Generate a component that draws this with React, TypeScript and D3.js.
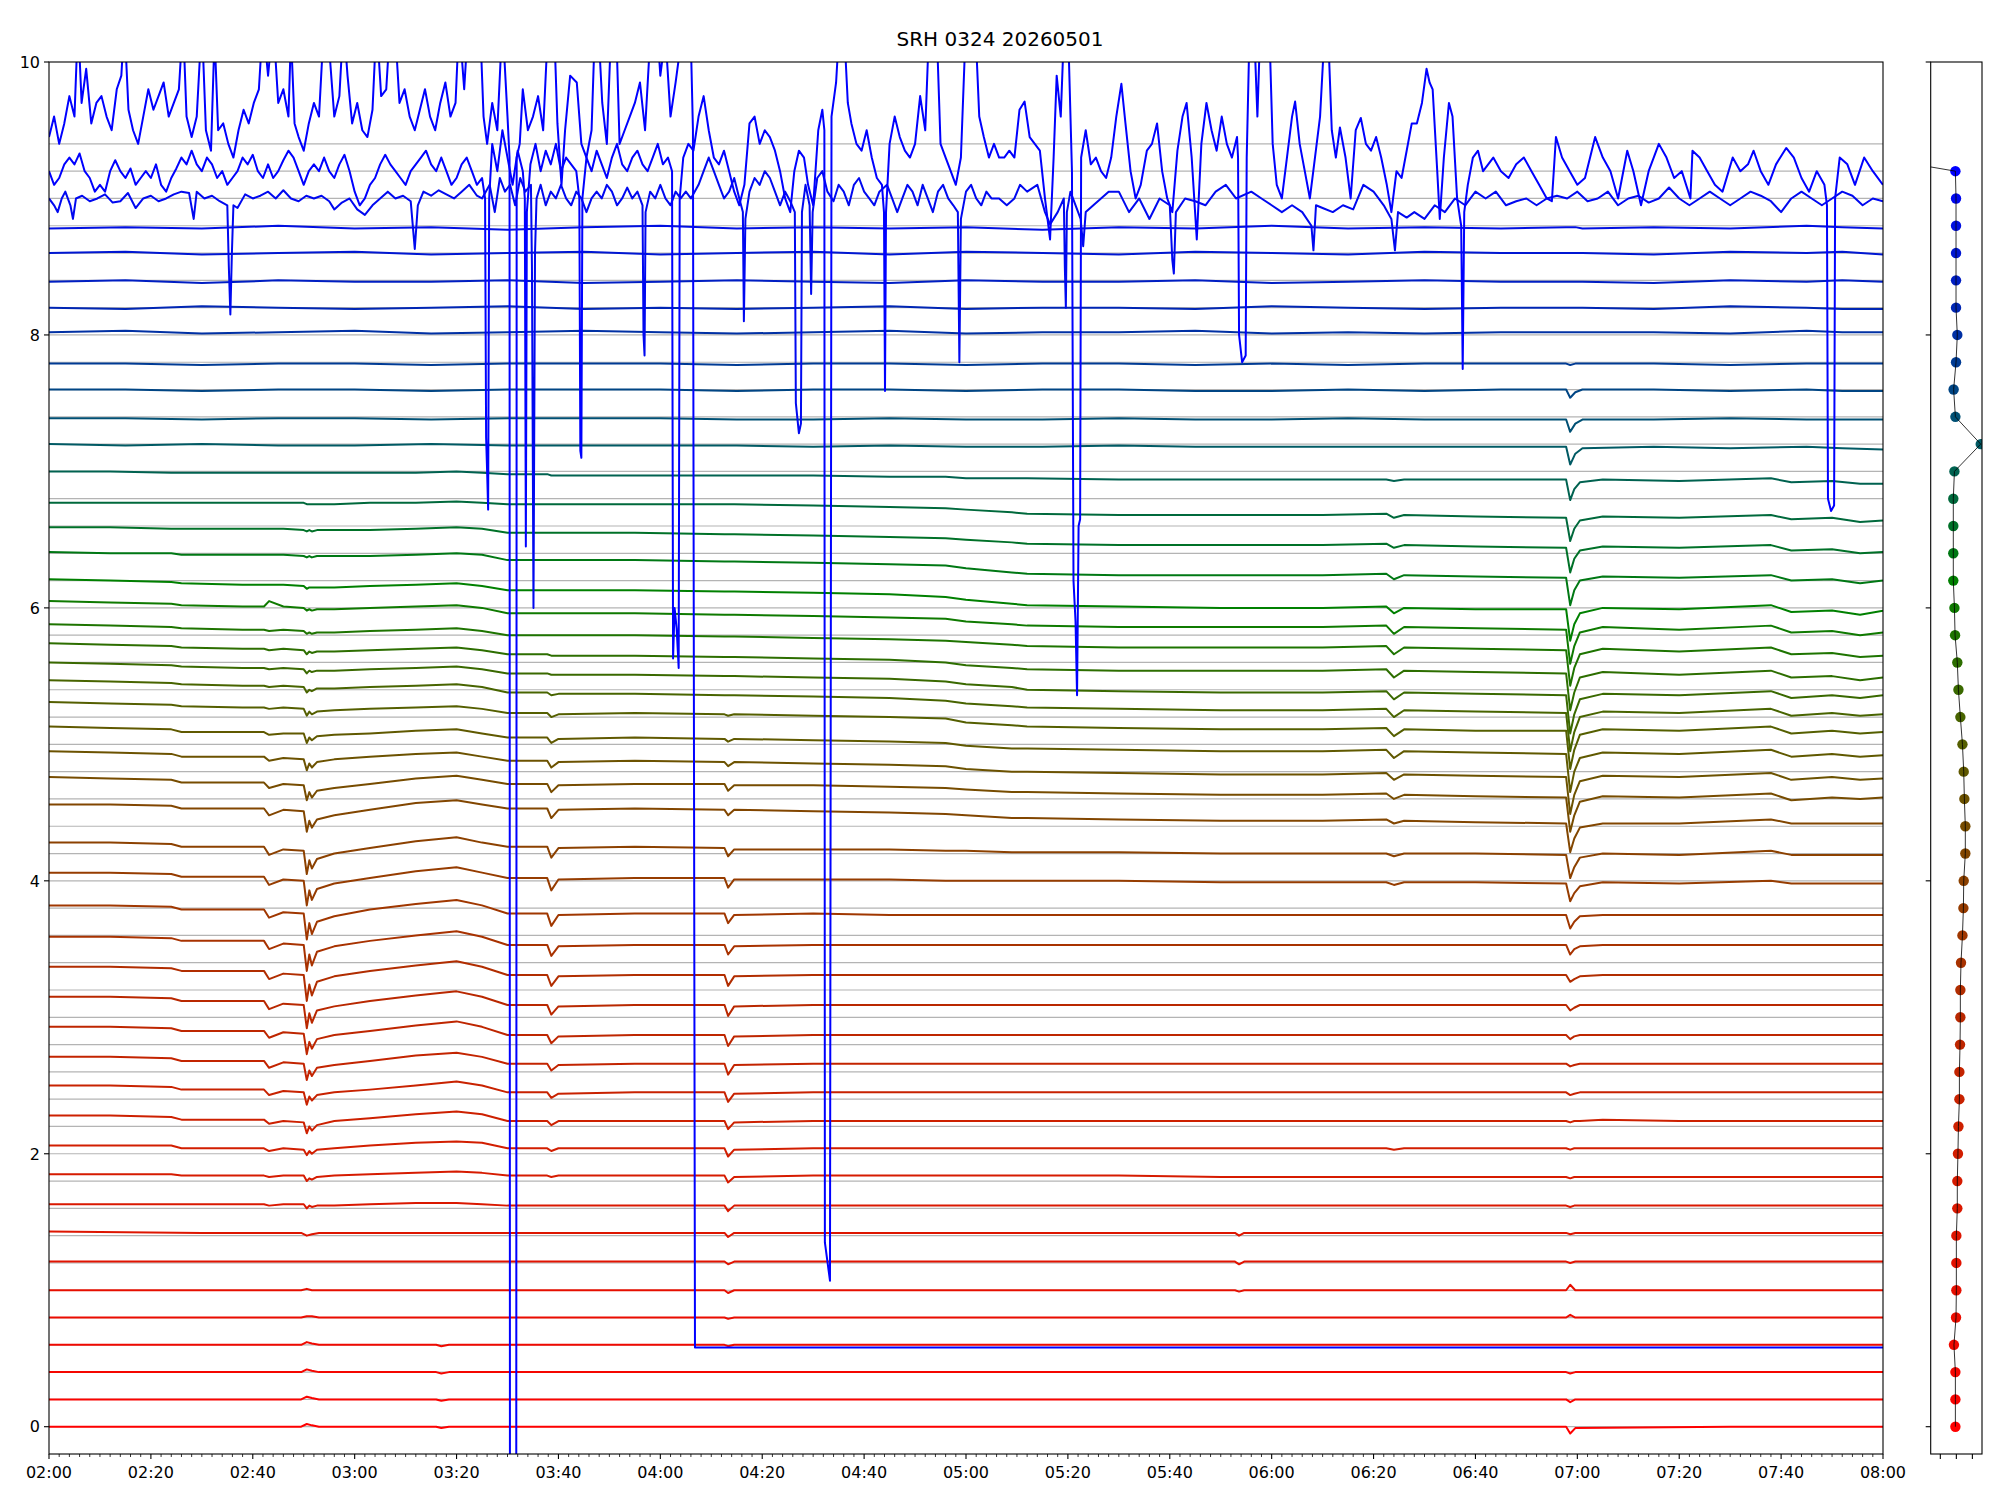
import * as d3 from "d3";
import React from "react";

// ---- data ---------------------------------------------------------------

const knotsLow = [0, 30, 49.5, 50.6, 51.6, 53, 76, 77, 78.5, 120, 132.6, 133.3, 134.5, 200, 232.8, 233.6, 234.6, 297.8, 298.6, 299.6, 330, 360];
const knotsMid = [
  0, 12, 24, 26, 38, 42.2, 43.2, 46, 50, 50.6,
  51.1, 51.6, 52.6, 56, 63, 72, 80, 85, 90, 97.8,
  98.6, 100, 115, 132.6, 133.3, 134.5, 150, 165, 176, 180,
  189, 192, 210, 230, 250, 262.5, 264, 266, 280, 297.8,
  298.6, 299.4, 300.5, 305, 320, 338, 342, 350, 355.5, 360,
];
const knotsHigh = [0, 15, 30, 45, 60, 75, 90, 105, 120, 135, 150, 165, 180, 195, 210, 225, 240, 255, 270, 285, 297.8, 298.6, 299.6, 301, 315, 330, 345, 352, 360];

// y offset of every channel
const offsets = [
  0, 0.2, 0.4, 0.6, 0.8, 1.0, 1.2, 1.4, 1.6, 1.8,
  2.0, 2.2, 2.4, 2.6, 2.8, 3.0, 3.2, 3.4, 3.6, 3.8,
  4.0, 4.2, 4.4, 4.6, 4.8, 5.0, 5.2, 5.4, 5.6, 5.8,
  6.0, 6.2, 6.4, 6.6, 6.8, 7.0, 7.2, 7.4, 7.6, 7.8,
  8.0, 8.2, 8.4, 8.6, 8.8, 9.0, 9.2, 9.4,
];

// deviation from the channel offset, in hundredths
const ch00 = [0, 0, 0, 2, 1, 0, 0, -1, 0, 0, 0, 0, 0, 0, 0, 0, 0, 0, -5, -1, 0, 0];
const ch01 = [0, 0, 0, 2, 1, 0, 0, -1, 0, 0, 0, 0, 0, 0, 0, 0, 0, 0, -2, 0, 0, 0];
const ch02 = [0, 0, 0, 2, 1, 0, 0, -1, 0, 0, 0, 0, 0, 0, 0, 0, 0, 0, -1, 0, 0, 0];
const ch03 = [0, 0, 0, 2, 1, 0, 0, -1, 0, 0, 0, -1, 0, 0, 0, 0, 0, 0, 0, 0, 0, 0];
const ch04 = [0, 0, 0, 1, 1, 0, 0, 0, 0, 0, 0, -1, 0, 0, 0, 0, 0, 0, 2, 0, 0, 0];
const ch05 = [0, 0, 0, 1, 0, 0, 0, 0, 0, 0, 0, -2, 0, 0, 0, -1, 0, 0, 4, 0, 0, 0];
const ch06 = [1, 1, 1, 1, 1, 1, 1, 1, 1, 1, 1, -1, 1, 1, 1, -1, 1, 1, 0, 1, 1, 1];
const ch07 = [3, 2, 2, 0, 1, 2, 2, 2, 2, 2, 2, -1, 2, 2, 2, 0, 2, 2, 1, 2, 2, 2];

const ch08 = [3, 3, 3, 3, 3, 3, 2, 3, 3, 0, 2, 1, 2, 2, 3, 4, 4, 3, 2, 2, 2, 2, 2, 2, -2, 2, 2, 2, 2, 2, 2, 2, 2, 2, 2, 2, 2, 2, 2, 2, 1, 2, 2, 2, 2, 2, 2, 2, 2, 2];
const ch09 = [5, 5, 5, 4, 4, 4, 3, 4, 4, 0, 2, 1, 3, 4, 5, 6, 7, 6, 4, 4, 3, 4, 4, 4, -1, 3, 4, 4, 4, 4, 4, 4, 4, 3, 3, 3, 3, 3, 3, 3, 2, 3, 3, 3, 3, 3, 3, 3, 3, 3];
const ch10 = [6, 6, 6, 4, 4, 4, 2, 4, 3, -1, 2, 0, 3, 4, 6, 8, 9, 8, 4, 4, 2, 4, 4, 4, -2, 3, 4, 4, 4, 4, 4, 4, 4, 4, 4, 4, 3, 4, 4, 4, 3, 4, 4, 4, 4, 4, 4, 4, 4, 4];
const ch11 = [8, 8, 7, 5, 5, 5, 2, 4, 3, -5, 0, -3, 1, 4, 6, 9, 11, 9, 4, 4, 1, 4, 4, 4, -2, 3, 4, 4, 4, 4, 4, 4, 4, 4, 4, 4, 4, 4, 4, 4, 3, 4, 4, 5, 4, 4, 4, 4, 4, 4];
const ch12 = [10, 10, 9, 7, 7, 7, 3, 6, 5, -4, 2, -1, 3, 5, 7, 10, 13, 10, 5, 5, 1, 4, 5, 5, -2, 4, 5, 5, 5, 5, 5, 5, 5, 5, 5, 5, 5, 5, 5, 5, 3, 4, 5, 5, 5, 5, 5, 5, 5, 5];
const ch13 = [11, 11, 10, 8, 8, 8, 3, 7, 6, -6, 1, -3, 3, 5, 8, 12, 14, 11, 6, 6, 1, 5, 6, 6, -2, 5, 6, 6, 6, 6, 6, 6, 6, 6, 6, 6, 6, 6, 6, 6, 4, 5, 6, 6, 6, 6, 6, 6, 6, 6];
const ch14 = [13, 13, 12, 10, 10, 10, 5, 9, 8, -7, 2, -3, 4, 7, 10, 14, 17, 13, 7, 7, 1, 6, 7, 7, -1, 6, 7, 7, 7, 7, 7, 7, 7, 7, 7, 7, 7, 7, 7, 7, 4, 6, 7, 7, 7, 7, 7, 7, 7, 7];
const ch15 = [15, 15, 14, 12, 12, 12, 6, 10, 9, -8, 3, -4, 5, 8, 12, 16, 19, 15, 9, 9, 2, 8, 9, 9, 1, 8, 9, 9, 9, 9, 9, 9, 9, 9, 9, 9, 9, 9, 9, 9, 5, 7, 9, 9, 9, 9, 9, 9, 9, 9];
const ch16 = [17, 17, 16, 14, 14, 14, 8, 12, 11, -8, 4, -4, 6, 10, 14, 18, 21, 17, 11, 11, 3, 10, 11, 11, 3, 10, 11, 11, 11, 11, 11, 11, 11, 11, 11, 11, 11, 11, 11, 11, 6, 8, 10, 11, 11, 11, 11, 11, 11, 11];
const ch17 = [19, 19, 18, 16, 16, 16, 10, 14, 13, -6, 6, -2, 8, 12, 16, 20, 23, 19, 13, 13, 5, 12, 13, 13, 6, 12, 13, 13, 13, 13, 13, 13, 13, 13, 13, 13, 13, 13, 13, 13, 6, 10, 12, 13, 13, 13, 13, 13, 13, 13];
const ch18 = [22, 22, 21, 19, 19, 19, 13, 17, 16, -3, 9, 1, 10, 14, 19, 23, 26, 22, 16, 16, 7, 15, 16, 16, 9, 15, 16, 15, 15, 15, 15, 15, 15, 15, 15, 15, 15, 15, 15, 15, 5, 10, 14, 15, 15, 15, 15, 15, 15, 15];
const ch19 = [26, 26, 25, 23, 23, 23, 17, 21, 20, 2, 13, 6, 14, 18, 22, 27, 30, 26, 22, 22, 13, 21, 22, 22, 15, 21, 21, 21, 20, 20, 20, 20, 20, 19, 19, 19, 17, 19, 19, 18, 5, 11, 16, 19, 18, 20, 18, 18, 18, 18];
const ch20 = [28, 28, 27, 25, 25, 25, 19, 23, 22, 5, 15, 9, 16, 20, 24, 29, 32, 28, 25, 25, 17, 24, 25, 24, 18, 23, 23, 23, 22, 22, 21, 21, 21, 20, 20, 20, 18, 20, 20, 19, 2, 10, 17, 20, 19, 22, 19, 19, 19, 19];
const ch21 = [36, 36, 35, 33, 33, 33, 28, 32, 31, 16, 24, 19, 25, 28, 32, 37, 39, 36, 33, 33, 26, 32, 33, 32, 28, 32, 31, 30, 29, 28, 26, 26, 25, 24, 24, 25, 22, 24, 23, 22, 1, 11, 19, 22, 22, 25, 22, 22, 22, 22];
const ch22 = [36, 35, 34, 32, 32, 32, 28, 31, 30, 19, 25, 21, 26, 28, 31, 35, 37, 34, 31, 31, 25, 30, 31, 31, 26, 30, 30, 29, 28, 27, 25, 25, 24, 23, 23, 24, 20, 23, 22, 21, -4, 8, 18, 22, 21, 24, 19, 21, 20, 21];
const ch23 = [35, 34, 33, 31, 31, 31, 28, 30, 29, 21, 26, 23, 27, 29, 31, 33, 34, 31, 28, 28, 23, 27, 28, 27, 24, 27, 26, 25, 24, 22, 20, 20, 19, 18, 18, 19, 14, 18, 17, 16, -11, 3, 13, 17, 16, 19, 14, 16, 14, 15];
const ch24 = [33, 32, 31, 29, 29, 29, 27, 28, 28, 21, 25, 23, 26, 27, 28, 30, 31, 28, 25, 25, 21, 24, 25, 24, 22, 24, 23, 22, 21, 19, 17, 17, 16, 15, 15, 16, 10, 15, 14, 13, -15, 0, 10, 14, 13, 16, 11, 13, 11, 12];
const ch25 = [31, 30, 29, 28, 27, 27, 26, 27, 26, 21, 24, 22, 24, 25, 26, 27, 28, 26, 23, 23, 20, 22, 23, 22, 21, 22, 21, 20, 19, 16, 14, 13, 12, 11, 11, 12, 6, 11, 10, 10, -18, -4, 7, 11, 10, 13, 8, 10, 8, 9];
const ch26 = [27, 26, 25, 24, 23, 23, 22, 23, 22, 18, 20, 19, 21, 21, 22, 23, 24, 22, 18, 18, 16, 17, 17, 16, 16, 16, 15, 14, 12, 10, 8, 7, 6, 5, 5, 6, 0, 5, 4, 3, -25, -11, 0, 4, 3, 6, 1, 3, 1, 2];
const ch27 = [20, 19, 18, 17, 16, 16, 15, 16, 15, 12, 14, 13, 14, 14, 15, 16, 17, 15, 12, 12, 11, 11, 11, 10, 10, 10, 9, 8, 6, 4, 2, 0, -1, -2, -2, -1, -7, -2, -3, -4, -32, -18, -7, -3, -4, -1, -6, -4, -6, -4];
const ch28 = [14, 13, 12, 11, 10, 10, 9, 10, 9, 6, 8, 7, 8, 8, 9, 10, 11, 9, 6, 6, 5, 5, 5, 4, 4, 4, 3, 2, 0, -2, -4, -5, -6, -6, -6, -5, -11, -6, -7, -8, -35, -22, -11, -7, -9, -6, -11, -10, -13, -11];
const ch29 = [8, 7, 6, 5, 4, 4, 3, 4, 3, 1, 2, 1, 2, 2, 3, 4, 5, 3, 0, 0, 0, 0, 0, -1, -1, -1, -2, -3, -4, -5, -7, -8, -9, -9, -9, -8, -14, -9, -10, -11, -37, -24, -14, -10, -12, -9, -14, -13, -16, -15];
const ch30 = [5, 4, 3, 2, 1, 1, 5, 1, 0, -2, -1, -2, -1, -1, 0, 1, 2, 0, -4, -4, -4, -4, -4, -5, -5, -5, -6, -7, -8, -10, -12, -13, -14, -14, -14, -13, -19, -14, -15, -16, -41, -28, -18, -14, -16, -13, -18, -17, -20, -18];
const ch31 = [1, 0, -1, -2, -3, -3, -3, -3, -4, -6, -5, -5, -5, -5, -4, -3, -2, -4, -7, -7, -7, -7, -7, -8, -8, -8, -9, -10, -12, -14, -17, -18, -19, -20, -20, -19, -24, -20, -21, -21, -44, -32, -24, -20, -21, -18, -23, -22, -25, -22];
const ch32 = [1, 0, 0, -1, -1, -1, -1, -1, -2, -3, -2, -3, -2, -2, -2, -1, 0, -1, -5, -5, -5, -5, -5, -6, -6, -6, -7, -8, -9, -11, -14, -15, -16, -16, -16, -15, -19, -16, -17, -18, -38, -27, -20, -17, -18, -16, -20, -19, -22, -20];
const ch33 = [-1, -1, -2, -2, -2, -2, -2, -2, -3, -4, -3, -4, -3, -3, -3, -2, -1, -2, -5, -5, -5, -5, -5, -6, -6, -6, -7, -8, -9, -10, -12, -13, -14, -14, -14, -13, -16, -14, -15, -16, -34, -24, -18, -15, -16, -14, -18, -17, -20, -19];
const ch34 = [-3, -3, -3, -3, -3, -3, -3, -3, -3, -4, -4, -4, -4, -4, -3, -3, -2, -3, -4, -4, -4, -4, -4, -4, -4, -4, -5, -6, -7, -8, -10, -11, -12, -12, -12, -11, -14, -12, -13, -14, -31, -22, -16, -13, -14, -12, -15, -14, -17, -16];
const ch35 = [0, 0, -1, -1, -1, -1, -1, -1, -1, -1, -1, -1, -1, -1, -1, -1, 0, -1, -2, -2, -3, -3, -3, -3, -3, -3, -3, -4, -4, -5, -5, -5, -6, -6, -6, -6, -7, -6, -6, -6, -21, -13, -8, -6, -7, -5, -8, -7, -9, -9];

const ch36 = [0, -1, 0, -1, -1, 0, -1, -1, -1, -1, -2, -1, -2, -2, -1, -2, -2, -2, -2, -2, -2, -15, -7, -3, -2, -3, -2, -3, -4];
const ch37 = [-1, -1, -2, -1, -1, -2, -1, -1, -1, -2, -2, -1, -2, -2, -1, -2, -2, -1, -2, -2, -2, -11, -5, -2, -2, -1, -2, -2, -2];
const ch38 = [0, 0, -1, 0, 0, -1, 0, 0, 0, -1, 0, 0, -1, 0, 0, -1, -1, 0, -1, 0, 0, -6, -2, 0, 0, -1, 0, -1, -1];
const ch39 = [-1, -1, -2, -1, -1, -2, -1, -1, -1, -2, -1, -1, -2, -1, -1, -2, -1, -2, -1, -1, -1, -2, -1, -1, -1, -2, -1, -1, -1];
const ch40 = [2, 3, 1, 2, 3, 1, 2, 3, 2, 1, 2, 3, 1, 2, 2, 3, 1, 2, 1, 2, 2, 2, 2, 2, 2, 1, 3, 2, 2];
const ch41 = [0, -1, 1, 0, -1, 0, 1, -1, 0, -1, 0, 1, -1, 0, 0, -1, 1, 0, -1, 0, 0, 0, 0, 0, -1, 1, 0, -1, -1];
const ch42 = [-1, 0, -2, 0, -1, -1, 0, -2, -1, 0, -1, -2, 0, -1, -1, 0, -2, -1, 0, -1, -1, -1, -1, -1, -2, 0, -1, 0, -1];
const ch43 = [0, 1, -1, 0, 1, -1, 0, 1, -1, 0, 1, -1, 1, 0, -1, 1, 0, -1, 1, 0, 0, 0, 0, 0, -1, 1, 0, 1, -1];
const ch44 = [-2, -1, -2, 0, -2, -1, -3, -1, 0, -2, -1, -2, -1, -3, -1, -2, 0, -2, -1, -2, -1, -1, -1, -2, -1, -2, 0, -1, -2];

// the three noisy top channels, [minutes after 02:00, value]
const ch45 = [
  [0, 9.0], [1, 8.95], [1.7, 8.9], [2.5, 9.0], [3.2, 9.05], [4.2, 8.95], [4.7, 8.85], [5.3, 9.0], [6.5, 9.02], [8, 8.98],
  [9.5, 9.0], [11, 9.03], [12.5, 8.97], [14, 8.98], [15.5, 9.04], [17, 8.93], [18.5, 9.0], [20, 9.02], [21.5, 8.98], [23, 9.0],
  [24.5, 9.03], [26, 9.05], [27.5, 9.04], [28.4, 8.85], [29, 9.05], [30.5, 9.0], [32, 9.02], [33.5, 8.98], [35, 8.95], [35.3, 8.5],
  [35.6, 8.15], [35.9, 8.6], [36.2, 8.95], [37, 8.93], [38.5, 9.03], [40, 9.0], [41.5, 9.02], [43, 9.05], [44.5, 9.0], [46, 9.06],
  [47.5, 9.0], [49, 8.98], [50.5, 9.02], [52, 9.0], [53.5, 9.02], [55, 8.98], [56, 8.92], [57.5, 8.97], [59, 9.0], [60.5, 8.92],
  [62, 8.88], [63.5, 8.95], [65, 9.0], [66.5, 9.05], [68, 9.0], [69.5, 9.02], [71, 8.98], [71.8, 8.63], [72.4, 8.95], [73.5, 9.05],
  [75, 9.02], [76.5, 9.06], [78, 9.03], [79.5, 9.0], [81, 9.05], [82.5, 9.1], [84, 9.02], [85, 9.0], [86.5, 9.1], [87.5, 8.9],
  [88.5, 9.15], [89.5, 9.05], [90.5, 9.1], [91.5, 8.95], [92.5, 9.15], [93.5, 9.05], [94.6, 9.1], [94.8, 8.5], [95.1, 6.0], [95.4, 8.6],
  [95.7, 9.0], [96.5, 9.1], [97.5, 8.95], [98.5, 9.05], [99.5, 9.0], [100.5, 9.1], [101.5, 9.0], [102.5, 8.95], [103.5, 9.05], [104.5, 9.0],
  [105.5, 8.9], [106.5, 9.0], [107.5, 9.05], [108.5, 9.0], [109.5, 9.1], [110.5, 9.05], [111.5, 8.95], [112.5, 9.0], [113.5, 9.08], [114.5, 9.0],
  [115.5, 9.05], [116.5, 8.95], [116.7, 8.0], [116.9, 7.85], [117.1, 8.9], [118, 9.05], [119, 9.0], [120, 9.1], [121, 9.0], [122, 8.95],
  [123, 9.05], [124, 9.0], [125, 9.05], [126, 9.0], [127.5, 9.1], [128.5, 9.2], [129.5, 9.3], [130.5, 9.2], [131.5, 9.1], [132.5, 9.0],
  [133.5, 9.05], [134.5, 9.15], [135.5, 9.0], [136.2, 8.9], [136.4, 8.1], [136.7, 8.85], [137.5, 9.05], [138.5, 9.15], [139.5, 9.1], [140.5, 9.2],
  [141.5, 9.15], [142.5, 9.05], [143.5, 8.95], [144.5, 9.05], [145.5, 8.98], [146.4, 8.9], [146.6, 7.5], [147.2, 7.28], [147.6, 7.35], [147.8, 8.9],
  [148.5, 9.1], [149.3, 8.95], [149.6, 8.3], [149.9, 8.9], [150.8, 9.15], [151.8, 9.2], [152.8, 9.05], [154, 8.98], [155, 9.1], [156, 9.05],
  [157, 8.95], [158, 9.1], [159, 9.15], [160, 9.05], [161, 9.0], [162, 8.95], [163, 9.05], [164.5, 9.1], [165.5, 9.0], [166.5, 8.9],
  [167.5, 9.0], [168.5, 9.1], [169.5, 9.05], [170.5, 8.95], [171.5, 9.1], [172.5, 9.0], [173.5, 8.9], [174.5, 9.05], [175.5, 9.1], [176.5, 9.0],
  [177.5, 8.95], [178.4, 8.9], [178.7, 7.8], [179, 8.85], [180, 9.05], [181, 9.1], [182, 9.0], [183, 8.95], [184, 9.05], [185, 9.0],
  [186.5, 9.0], [188, 8.95], [189.5, 9.0], [190.6, 9.1], [192, 9.05], [194, 9.1], [195.5, 8.9], [196.5, 8.81], [198, 8.9], [199.2, 9.0],
  [199.4, 8.5], [199.6, 8.2], [199.8, 8.9], [200.5, 9.05], [202.5, 8.85], [203, 8.65], [203.5, 8.9], [205, 8.95], [206.5, 9.0], [208, 9.05],
  [210, 9.05], [212, 8.9], [214, 9.0], [216, 8.85], [218, 9.0], [220, 8.95], [220.5, 8.55], [220.8, 8.45], [221.2, 8.9], [223, 9.0],
  [225, 8.98], [227, 8.95], [229, 9.05], [231, 9.1], [233, 9.0], [236, 9.05], [238, 9.0], [240, 8.95], [242, 8.9], [244, 8.95],
  [246, 8.9], [247.8, 8.8], [248.2, 8.62], [248.7, 8.95], [250, 8.93], [252, 8.9], [254, 8.95], [256, 8.92], [258, 9.1], [260, 9.05],
  [262, 8.95], [263.5, 8.85], [264.2, 8.62], [264.8, 8.9], [266.5, 8.86], [268, 8.9], [270, 8.85], [272, 8.95], [274, 8.9], [276, 9.0],
  [278, 8.95], [280, 9.05], [282, 9.0], [284, 9.05], [286, 8.95], [288, 8.98], [290, 9.0], [292, 8.95], [294, 9.0], [296, 9.02],
  [298, 9.0], [300, 9.05], [302, 8.98], [304, 9.0], [306, 9.05], [308, 8.95], [310, 9.0], [312, 9.02], [314, 8.97], [316, 9.0],
  [318, 9.08], [320, 9.0], [322, 8.95], [324, 9.0], [326, 9.05], [328, 9.0], [330, 8.95], [332, 9.0], [334, 9.05], [336, 9.02],
  [338, 8.98], [340, 8.9], [342, 9.0], [344, 9.05], [346, 9.0], [348, 8.95], [350, 9.0], [352, 9.05], [354, 9.02], [356, 8.95],
  [358, 9.0], [360, 8.98],
];
const ch46 = [
  [0, 9.2], [1, 9.1], [2, 9.15], [3, 9.25], [4, 9.3], [5, 9.25], [6, 9.33], [7, 9.2], [8, 9.15], [9, 9.05],
  [10, 9.1], [11, 9.05], [12, 9.2], [13, 9.28], [14, 9.2], [15, 9.15], [16, 9.22], [17, 9.1], [18, 9.15], [19, 9.2],
  [20, 9.15], [21, 9.25], [22, 9.1], [23, 9.05], [24, 9.15], [25, 9.22], [26, 9.3], [27, 9.25], [28, 9.35], [29, 9.25],
  [30, 9.2], [31, 9.3], [32, 9.25], [33, 9.15], [34, 9.2], [35, 9.1], [36, 9.15], [37, 9.2], [38, 9.3], [39, 9.25],
  [40, 9.32], [41, 9.2], [42, 9.15], [43, 9.25], [44, 9.15], [45, 9.2], [46, 9.28], [47, 9.35], [48, 9.3], [49, 9.2],
  [50, 9.1], [51, 9.2], [52, 9.25], [53, 9.2], [54, 9.3], [55, 9.2], [56, 9.15], [57, 9.25], [58, 9.32], [59, 9.2],
  [60, 9.05], [61, 8.95], [62, 9.0], [63, 9.1], [64, 9.15], [65, 9.25], [66, 9.32], [67, 9.25], [68, 9.2], [69, 9.15],
  [70, 9.1], [71, 9.2], [72, 9.25], [73, 9.3], [74, 9.35], [75, 9.25], [76, 9.2], [77, 9.3], [78, 9.2], [79, 9.1],
  [80, 9.15], [81, 9.25], [82, 9.3], [83, 9.2], [84, 9.1], [85, 9.15], [85.6, 9.0], [85.8, 7.25], [86.0, 7.0], [86.2, 6.72],
  [86.4, 9.0], [87, 9.4], [88, 9.2], [89, 9.5], [90, 9.3], [91, 9.1], [92, 9.35], [93, 9.2], [93.4, 9.0], [93.6, 6.45],
  [93.8, 8.9], [94.5, 9.25], [95.5, 9.4], [96.5, 9.2], [97.5, 9.35], [98.5, 9.25], [99.5, 9.4], [100.5, 9.2], [101.5, 9.3], [102.5, 9.25],
  [103.5, 9.2], [104.1, 9.0], [104.3, 7.15], [104.5, 7.1], [104.7, 9.0], [105.5, 9.3], [106.5, 9.2], [107.5, 9.35], [108.5, 9.25], [109.5, 9.15],
  [110.5, 9.3], [111.5, 9.4], [112.5, 9.25], [113.5, 9.2], [114.5, 9.3], [115.5, 9.35], [116.5, 9.25], [117.5, 9.2], [118.5, 9.3], [119.5, 9.4],
  [120.5, 9.25], [121.5, 9.3], [122.3, 9.2], [122.5, 5.63], [122.8, 6.0], [123.2, 5.85], [123.6, 5.56], [123.8, 9.0], [124.5, 9.3], [125.5, 9.4],
  [126.5, 9.35], [127.5, 9.6], [128.5, 9.75], [129.5, 9.5], [130.5, 9.3], [131.5, 9.25], [132.5, 9.35], [133.5, 9.2], [134.5, 9.05], [135.5, 8.95],
  [136.5, 9.1], [137.5, 9.55], [138.5, 9.6], [139.5, 9.4], [140.5, 9.5], [141.5, 9.45], [142.5, 9.35], [143.5, 9.2], [144.5, 9.0], [145.5, 8.9],
  [146.3, 9.2], [147.2, 9.35], [148.2, 9.3], [149, 9.1], [150, 8.95], [151, 9.5], [151.8, 9.65], [152.2, 9.5], [152.3, 1.35], [153.3, 1.07],
  [153.6, 9.6], [154.5, 9.85], [155.2, 10.3], [156, 10.3], [156.8, 9.7], [157.5, 9.55], [158.5, 9.4], [159.5, 9.35], [160.5, 9.5], [161.5, 9.3],
  [162.5, 9.15], [163.5, 9.1], [163.9, 8.9], [164.1, 7.59], [164.3, 8.9], [165, 9.4], [166, 9.6], [167, 9.45], [168, 9.35], [169, 9.3],
  [170, 9.4], [171, 9.75], [172, 9.5], [172.8, 10.3], [174.2, 10.3], [175, 9.4], [176, 9.3], [177, 9.2], [178, 9.1], [179, 9.3],
  [180, 10.3], [181.8, 10.3], [182.6, 9.6], [183.5, 9.45], [184.5, 9.3], [185.5, 9.4], [186.5, 9.3], [187.5, 9.3], [188.5, 9.35], [189.5, 9.3],
  [190.5, 9.65], [191.5, 9.71], [192.5, 9.45], [193.5, 9.4], [194.5, 9.35], [195.5, 9.0], [196.5, 8.7], [197.2, 9.3], [197.8, 9.9], [198.6, 9.6],
  [199.3, 10.3], [200, 10.3], [200.8, 9.2], [201.1, 6.2], [201.5, 5.9], [201.8, 5.36], [202.1, 6.6], [202.4, 6.65], [202.6, 9.3], [203.5, 9.5],
  [204.5, 9.25], [205.5, 9.3], [206.5, 9.2], [207.5, 9.15], [208.5, 9.3], [209.5, 9.6], [210.5, 9.84], [211.3, 9.55], [212.3, 9.2], [213.3, 9.0],
  [214.3, 9.1], [215.5, 9.35], [216.5, 9.4], [217.5, 9.55], [218.5, 9.2], [219.5, 9.0], [220.5, 8.9], [221.5, 9.35], [222.5, 9.6], [223.3, 9.7],
  [224.3, 9.3], [225.3, 8.7], [226.2, 9.4], [227.2, 9.7], [228.2, 9.5], [229.2, 9.35], [230.2, 9.6], [231.2, 9.4], [232.2, 9.3], [233.2, 9.45],
  [233.4, 9.3], [233.6, 8.0], [234.2, 7.8], [234.9, 7.85], [235.1, 9.3], [235.7, 10.3], [236.5, 10.3], [237.2, 9.6], [237.8, 10.3], [239.5, 10.3],
  [240.2, 9.4], [241, 9.1], [242, 9.0], [243, 9.3], [244, 9.6], [244.6, 9.71], [245.5, 9.4], [246.5, 9.2], [247.5, 9.0], [248.5, 9.3],
  [249.5, 9.6], [250.5, 10.3], [251, 10.3], [251.8, 9.5], [252.6, 9.3], [253.4, 9.52], [254.5, 9.3], [255.5, 9.0], [256.5, 9.5], [257.5, 9.59],
  [258.5, 9.4], [259.5, 9.35], [260.5, 9.45], [261.5, 9.3], [262.6, 9.1], [263.5, 8.9], [264.5, 9.2], [265.5, 9.15], [266.5, 9.35], [267.5, 9.55],
  [268.5, 9.55], [269.5, 9.7], [270.4, 9.95], [271, 9.85], [271.6, 9.8], [272.5, 9.2], [273, 8.85], [273.8, 9.3], [274.8, 9.7], [275.5, 9.6],
  [276.4, 9.0], [277.2, 8.8], [277.5, 7.75], [277.8, 8.9], [278.5, 9.1], [279.5, 9.3], [280.5, 9.35], [281.5, 9.2], [282.5, 9.25], [283.5, 9.3],
  [285, 9.2], [286.5, 9.15], [288, 9.25], [289.5, 9.3], [291, 9.2], [292.5, 9.1], [294, 9.0], [295, 8.98], [295.8, 9.45], [297, 9.3],
  [298.5, 9.2], [300, 9.1], [301.5, 9.15], [303.5, 9.45], [305, 9.3], [306.5, 9.2], [308, 9.0], [309.8, 9.35], [311, 9.2], [312.5, 8.95],
  [314, 9.2], [316, 9.4], [317.5, 9.3], [319, 9.15], [320.5, 9.2], [322.2, 9.0], [322.6, 9.35], [324, 9.3], [325.5, 9.2], [327, 9.1],
  [328.5, 9.05], [330.5, 9.3], [332, 9.2], [333.5, 9.25], [334.6, 9.35], [336, 9.2], [337.5, 9.1], [339, 9.25], [341, 9.37], [342.5, 9.3],
  [344, 9.15], [345.5, 9.05], [347, 9.2], [348.5, 9.1], [349, 8.95], [349.2, 6.8], [349.8, 6.71], [350.4, 6.75], [350.6, 9.0], [351.5, 9.3],
  [353, 9.25], [354.5, 9.1], [356.3, 9.3], [358, 9.2], [360, 9.1],
];
const ch47 = [
  [0, 9.45], [1, 9.6], [2, 9.4], [3, 9.55], [4, 9.75], [5, 9.6], [5.7, 10.3], [6.4, 9.7], [7.3, 9.95], [8.3, 9.55],
  [9.3, 9.7], [10.3, 9.75], [11.3, 9.6], [12.3, 9.5], [13.3, 9.8], [14.2, 9.9], [14.8, 10.3], [15.6, 9.65], [16.5, 9.5], [17.5, 9.4],
  [18.5, 9.6], [19.5, 9.8], [20.5, 9.65], [21.5, 9.75], [22.5, 9.85], [23.5, 9.6], [24.5, 9.7], [25.5, 9.8], [26.3, 10.3], [27, 9.6],
  [28, 9.45], [29, 9.6], [30, 10.3], [30.8, 9.5], [31.8, 9.35], [32.5, 10.2], [33.2, 9.5], [34.2, 9.55], [35.2, 9.4], [36.2, 9.3],
  [37.2, 9.5], [38.2, 9.65], [39.2, 9.55], [40.2, 9.7], [41.2, 9.8], [42, 10.3], [43, 9.9], [44, 10.3], [45, 9.7], [46, 9.8],
  [47, 9.6], [47.5, 10.2], [48.2, 9.55], [49, 9.45], [50, 9.35], [51, 9.55], [52, 9.7], [53, 9.6], [54, 10.3], [55, 10.1],
  [56, 9.6], [57, 9.75], [57.8, 10.3], [58.6, 9.9], [59.5, 9.55], [60.5, 9.7], [61.5, 9.5], [62.5, 9.45], [63.5, 9.65], [64.3, 10.3],
  [65.2, 9.75], [66.2, 9.8], [67, 10.3], [68, 10.2], [68.8, 9.7], [69.8, 9.8], [70.8, 9.6], [71.8, 9.5], [72.8, 9.65], [73.8, 9.8],
  [74.8, 9.6], [75.8, 9.5], [76.8, 9.7], [77.8, 9.85], [78.8, 9.6], [79.8, 9.7], [80.5, 10.3], [81.5, 9.8], [82.3, 10.3], [83.5, 10.2],
  [84.6, 10.3], [85.3, 9.6], [86, 9.4], [87, 9.7], [88, 9.5], [89, 10.3], [90, 9.6], [90.4, 9.3], [90.5, -3], [91.7, -3],
  [91.8, 9.3], [92.4, 9.4], [93, 9.8], [94, 9.5], [95, 9.6], [96, 9.75], [97, 9.5], [98, 10.3], [99.3, 10.1], [99.8, 9.55],
  [100.6, 9.1], [101.3, 9.5], [102.3, 9.9], [103.6, 9.85], [104.5, 9.4], [105.5, 9.3], [106.5, 9.5], [107.2, 10.3], [107.9, 10.2], [108.6, 9.7],
  [109.5, 9.4], [110.4, 10.3], [111.3, 10.3], [112, 9.4], [113, 9.5], [114, 9.6], [115, 9.7], [116, 9.85], [117, 9.5], [118.2, 10.3],
  [119.3, 10.3], [120, 9.9], [121, 10.2], [122, 9.6], [123, 9.85], [124.6, 10.3], [125.9, 10.3], [126.4, 9.5], [126.8, 0.58], [360, 0.58],
];

// right-hand panel: one reading per channel (the last one lies far off to the left)
const panelX = [
  -0.06, -0.06, -0.06, -0.15, -0.02, 0.0, 0.0, 0.0, 0.06, 0.06,
  0.1, 0.13, 0.19, 0.19, 0.23, 0.25, 0.25, 0.29, 0.38, 0.44,
  0.46, 0.56, 0.56, 0.5, 0.46, 0.38, 0.25, 0.13, 0.06, -0.08,
  -0.12, -0.19, -0.19, -0.19, -0.19, -0.12, 1.52, -0.06, -0.17, -0.02,
  0.06, -0.02, -0.02, -0.02, -0.02, -0.02, -0.06, -10,
];

const yTicks = [0, 2, 4, 6, 8, 10];
const panelTicks = [-1, 0, 1];
const title = "SRH 0324 20260501";

// ---- layout / style -------------------------------------------------------

const W = 2000;
const H = 1500;
const plot = { left: 49, right: 1883, top: 62, bottom: 1454 };
const side = { left: 1930.7, right: 1982 };
const font = "DejaVu Sans";

const colourStops = [0, 1.0, 2.0, 3.0, 3.6, 4.2, 5.0, 5.6, 6.2, 7.2, 8.2, 9.2, 9.4];
const colourRamp = ["#ff0000", "#e60f00", "#d21e00", "#b92800", "#a03700", "#824600", "#555f00", "#2d6e00", "#008000", "#005a64", "#0026b4", "#0000ff", "#0000ff"];

const start = Date.UTC(2026, 4, 1, 2, 0);
const at = (m: number) => new Date(start + m * 60000);

const fromKnots = (knots: number[], dev: number[], off: number): [number, number][] =>
  knots.map((k, i) => [k, off + dev[i] / 100]);

const lowBand = [ch00, ch01, ch02, ch03, ch04, ch05, ch06, ch07];
const midBand = [ch08, ch09, ch10, ch11, ch12, ch13, ch14, ch15, ch16, ch17, ch18, ch19, ch20, ch21,
  ch22, ch23, ch24, ch25, ch26, ch27, ch28, ch29, ch30, ch31, ch32, ch33, ch34, ch35];
const highBand = [ch36, ch37, ch38, ch39, ch40, ch41, ch42, ch43, ch44];
const noisyBand = [ch45, ch46, ch47] as [number, number][][];

const App = (): React.ReactElement => {
  const x = d3.scaleUtc().domain([at(0), at(360)]).range([plot.left, plot.right]);
  const y = d3.scaleLinear().domain([-0.2, 10]).range([plot.bottom, plot.top]);
  const px = d3.scaleLinear().domain([-1.6, 1.6]).range([side.left, side.right]);
  const colour = d3
    .scaleLinear<string>()
    .domain(colourStops)
    .range(colourRamp)
    .interpolate(d3.interpolateRgb);

  const series: [number, number][][] = [
    ...lowBand.map((d, i) => fromKnots(knotsLow, d, offsets[i])),
    ...midBand.map((d, i) => fromKnots(knotsMid, d, offsets[i + 8])),
    ...highBand.map((d, i) => fromKnots(knotsHigh, d, offsets[i + 36])),
    ...noisyBand,
  ];

  const line = d3
    .line<[number, number]>()
    .x((d) => x(at(d[0])))
    .y((d) => y(d[1]));

  const majors = x.ticks(d3.utcMinute.every(20) as d3.TimeInterval);
  const minors = x.ticks(d3.utcMinute.every(2) as d3.TimeInterval).filter((d) => d.getUTCMinutes() % 20 !== 0);
  const fmt = d3.utcFormat("%H:%M");

  const panelLine = d3
    .line<number>()
    .x((d) => px(d))
    .y((_, i) => y(offsets[i]));

  return (
    <svg width={W} height={H} style={{ position: "absolute", left: 0, top: 0, background: "#fff" }} fontFamily={font}>
      <defs>
        <clipPath id="plotClip">
          <rect x={plot.left} y={plot.top} width={plot.right - plot.left} height={plot.bottom - plot.top} />
        </clipPath>
        <clipPath id="sideClip">
          <rect x={side.left} y={plot.top} width={side.right - side.left} height={plot.bottom - plot.top} />
        </clipPath>
      </defs>

      <text x={W / 2} y={46} textAnchor="middle" fontSize={20}>
        {title}
      </text>

      {/* channel baselines */}
      <g stroke="#b4b4b4" strokeWidth={1.2}>
        {offsets.map((o) => (
          <line key={o} x1={plot.left} x2={plot.right} y1={y(o)} y2={y(o)} />
        ))}
      </g>

      {/* traces */}
      <g clipPath="url(#plotClip)" fill="none" strokeWidth={2} strokeLinejoin="round">
        {series.map((s, i) => (
          <path key={i} d={line(s) ?? ""} stroke={colour(offsets[i])} />
        ))}
      </g>

      <rect x={plot.left} y={plot.top} width={plot.right - plot.left} height={plot.bottom - plot.top} fill="none" stroke="#000" strokeWidth={1.1} />

      {/* y axis */}
      <g fontSize={16} textAnchor="end">
        {yTicks.map((t) => (
          <g key={t}>
            <line x1={plot.left - 5} x2={plot.left} y1={y(t)} y2={y(t)} stroke="#000" strokeWidth={1.1} />
            <text x={plot.left - 9} y={y(t)} dy="0.36em">
              {t}
            </text>
          </g>
        ))}
      </g>

      {/* x axis */}
      <g stroke="#000">
        {minors.map((d) => (
          <line key={+d} x1={x(d)} x2={x(d)} y1={plot.bottom} y2={plot.bottom + 3} strokeWidth={0.8} />
        ))}
        {majors.map((d) => (
          <line key={+d} x1={x(d)} x2={x(d)} y1={plot.bottom} y2={plot.bottom + 5} strokeWidth={1.1} />
        ))}
      </g>
      <g fontSize={16} textAnchor="middle">
        {majors.map((d) => (
          <text key={+d} x={x(d)} y={1478}>
            {fmt(d)}
          </text>
        ))}
      </g>

      {/* right-hand panel */}
      <g clipPath="url(#sideClip)">
        {panelX.map((v, i) => (
          <circle key={i} cx={px(v)} cy={y(offsets[i])} r={5.2} fill={colour(offsets[i])} />
        ))}
        <path d={panelLine(panelX) ?? ""} fill="none" stroke="#000" strokeOpacity={0.8} strokeWidth={1} />
      </g>
      <rect x={side.left} y={plot.top} width={side.right - side.left} height={plot.bottom - plot.top} fill="none" stroke="#000" strokeWidth={1.1} />
      <g stroke="#000" strokeWidth={1.1}>
        {yTicks.map((t) => (
          <line key={t} x1={side.left - 5} x2={side.left} y1={y(t)} y2={y(t)} />
        ))}
        {panelTicks.map((t) => (
          <line key={t} x1={px(t)} x2={px(t)} y1={plot.bottom} y2={plot.bottom + 5} />
        ))}
      </g>
    </svg>
  );
};

export default App;
